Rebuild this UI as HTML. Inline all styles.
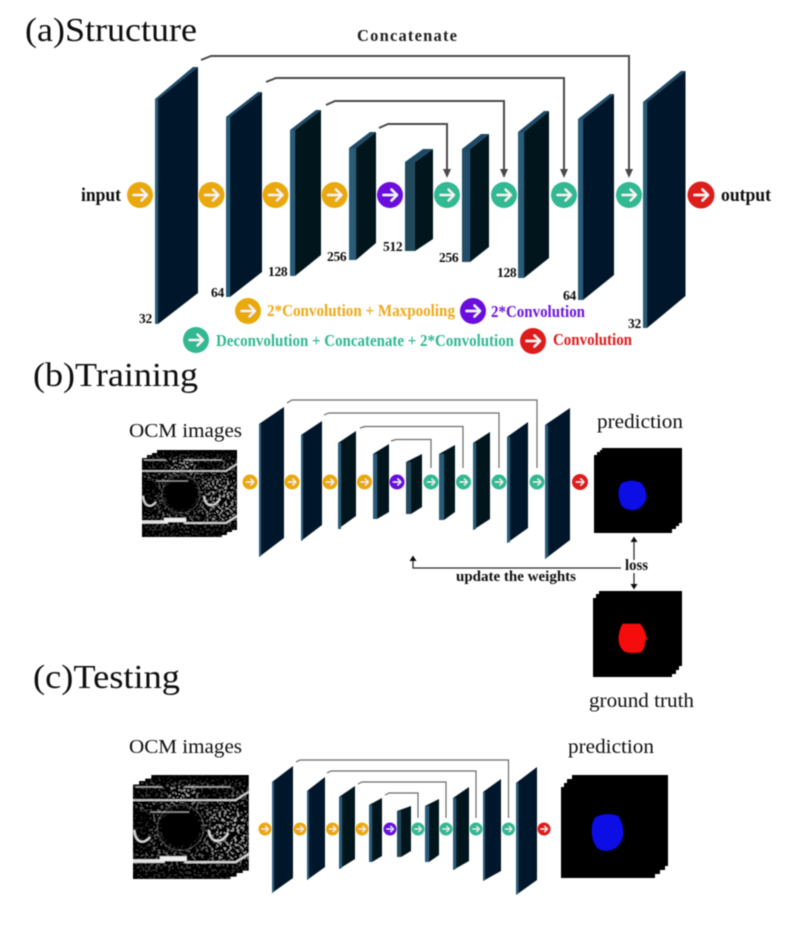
<!DOCTYPE html>
<html>
<head>
<meta charset="utf-8">
<style>
html,body{margin:0;padding:0;background:#fff;width:803px;height:929px;overflow:hidden}
svg{display:block}
text{font-family:"Liberation Serif",serif}
.b{font-weight:bold}
.t{font-size:34px;fill:#111}
.l{font-size:20px;fill:#111}
.n{font-size:13.5px;font-weight:bold;fill:#111;letter-spacing:-.3px}
.face{fill:#03192a}.face2{fill:#02121d}.strip{fill:#2c5b78}.top{fill:#1d4a66}
.c1{fill:none;stroke:#4a4a4a;stroke-width:2}
.c2{fill:none;stroke:#6b6b6b;stroke-width:1.2}
.ar{fill:none;stroke:#f6f6f6;stroke-width:2.2;stroke-linecap:round;stroke-linejoin:round}
</style>
</head>
<body>
<svg width="803" height="929" viewBox="0 0 803 929" xmlns="http://www.w3.org/2000/svg">
<defs>
<g id="arr"><path class="ar" d="M-6.5,0H6.5M1.5,-5.5L7,0L1.5,5.5"/></g>
<filter id="speck" x="0" y="0" width="100%" height="100%" color-interpolation-filters="sRGB">
<feTurbulence type="fractalNoise" baseFrequency="0.48" numOctaves="2" seed="7"/>
<feColorMatrix type="matrix" values="0 0 0 0 1  0 0 0 0 1  0 0 0 0 1  14 0 0 0 -8"/>
</filter>
<filter id="soft" x="-20%" y="-20%" width="140%" height="140%"><feGaussianBlur stdDeviation="2.5"/></filter>
<filter id="aa" x="0" y="0" width="100%" height="100%"><feGaussianBlur stdDeviation="0.4"/></filter>
<clipPath id="sil"><path d="M0,8H5V5H10V3H15V0H95V80H90V82H85V85H80V87H0Z"/></clipPath>
<mask id="dens" maskUnits="userSpaceOnUse" x="0" y="0" width="95" height="87">
<g filter="url(#soft)">
<rect width="95" height="87" fill="#666"/>
<rect x="0" y="0" width="95" height="8" fill="#222"/>
<rect x="0" y="11" width="40" height="8" fill="#222"/>
<rect x="50" y="11" width="30" height="8" fill="#111"/>
<rect x="30" y="10" width="22" height="12" fill="#aaa"/>
<rect x="-5" y="28" width="20" height="38" fill="#222"/>
<circle cx="39" cy="44" r="19" fill="#000"/>
<rect x="0" y="75" width="95" height="14" fill="#333"/>
<rect x="65" y="30" width="30" height="40" fill="#aaa"/>
</g>
</mask>
<g id="ocm">
<g clip-path="url(#sil)">
<rect width="95" height="87" fill="#000"/>
<rect width="95" height="87" filter="url(#speck)" mask="url(#dens)"/>
<g fill="none" stroke="#eee">
<path d="M2,10H24M42,10H80" stroke-width="1.2" opacity=".7"/>
<path d="M0,21H84L95,14" stroke-width="1.5" opacity=".85"/>
<circle cx="39" cy="44" r="19" stroke-width=".7" opacity=".3"/>
<path d="M14,31H46" stroke-width="1.2" opacity=".6"/>
<path d="M1,46C2,56 8,59 14,52" stroke-width="1.7" opacity=".9"/>
<path d="M62,46C63,56 71,59 78,49" stroke-width="1.7" opacity=".9"/>
<path d="M0,72H26" stroke-width="3" opacity=".95"/>
<path d="M22,70H44" stroke-width="4"/>
<path d="M42,73H84L95,66" stroke-width="1.8" opacity=".9"/>
</g>
</g>
</g>
</defs>
<rect width="803" height="929" fill="#fff"/>
<g filter="url(#aa)">

<!-- Panel A -->
<text class="t" x="25" y="41" textLength="172" lengthAdjust="spacingAndGlyphs">(a)Structure</text>
<text class="b" x="357" y="41" font-size="16.5" fill="#222" textLength="100">Concatenate</text>

<path class="c1" d="M201,60L211,56H629V170"/>
<path class="c1" d="M266,82L276,78H564V170"/>
<path class="c1" d="M326,105L335,101H504V170"/>
<path class="c1" d="M379,128L388,124H447V170"/>
<g fill="#4a4a4a">
<path d="M625,169H633L629,178Z"/><path d="M560,169H568L564,178Z"/><path d="M500,169H508L504,178Z"/><path d="M443,169H451L447,178Z"/>
</g>

<g>
<polygon class="top" points="155,99 193,67 198,67 158,99"/><polygon class="strip" points="155,99 158,99 158,324 155,324"/><polygon class="face" points="158,99 198,67 198,293 158,324"/>
<polygon class="top" points="226,117 258,92 262,92 230,117"/><polygon class="strip" points="226,117 230,117 230,297 226,297"/><polygon class="face" points="230,117 262,92 262,272 230,297"/>
<polygon class="top" points="290,130 316,110 321,110 295,130"/><polygon class="strip" points="290,130 295,130 295,276 290,276"/><polygon class="face2" points="295,130 321,110 321,255 295,276"/>
<polygon class="top" points="349,148 370,132 376,132 356,148"/><polygon class="strip" points="349,148 356,148 356,260 349,260"/><polygon class="face2" points="356,148 376,132 376,243 356,260"/>
<polygon class="top" points="405,162 423,149 433,149 415,162"/><polygon class="strip" points="405,162 415,162 415,251 405,251" style="fill:#24495c"/><polygon class="face2" points="415,162 433,149 433,239 415,251"/>
<polygon class="top" points="462,149 481,134 489,134 470,149"/><polygon class="strip" points="462,149 470,149 470,262 462,262" style="fill:#234d68"/><polygon class="face2" points="470,149 489,134 489,247 470,262"/>
<polygon class="top" points="518,132 544,111 549,111 524,132"/><polygon class="strip" points="518,132 524,132 524,278 518,278"/><polygon class="face2" points="524,132 549,111 549,258 524,278"/>
<polygon class="top" points="578,119 610,94 614,94 583,119"/><polygon class="strip" points="578,119 583,119 583,300 578,300"/><polygon class="face" points="583,119 614,94 614,275 583,300"/>
<polygon class="top" points="643,102 681,71 685.5,71 647,102"/><polygon class="strip" points="643,102 647,102 647,328 643,328"/><polygon class="face" points="647,102 685.5,71 685.5,296 647,328"/>
</g>

<g>
<circle cx="140" cy="195" r="13" fill="#e9a90c"/><circle cx="211.5" cy="195" r="13" fill="#e9a90c"/><circle cx="275.5" cy="195" r="13" fill="#e9a90c"/><circle cx="334.5" cy="195" r="13" fill="#e9a90c"/>
<circle cx="390" cy="195" r="13" fill="#6a0ddd"/>
<circle cx="447" cy="195" r="13" fill="#33b892"/><circle cx="504" cy="195" r="13" fill="#33b892"/><circle cx="564" cy="195" r="13" fill="#33b892"/><circle cx="629" cy="195" r="13" fill="#33b892"/>
<circle cx="701" cy="195" r="13.5" fill="#dd1c1c"/>
<use href="#arr" x="140" y="195"/><use href="#arr" x="211.5" y="195"/><use href="#arr" x="275.5" y="195"/><use href="#arr" x="334.5" y="195"/><use href="#arr" x="390" y="195"/><use href="#arr" x="447" y="195"/><use href="#arr" x="504" y="195"/><use href="#arr" x="564" y="195"/><use href="#arr" x="629" y="195"/><use href="#arr" x="701" y="195"/>
</g>

<text class="b" x="81" y="201" font-size="18.5" fill="#111" textLength="40" lengthAdjust="spacingAndGlyphs">input</text>
<text class="b" x="721" y="201" font-size="18.5" fill="#111" textLength="50" lengthAdjust="spacingAndGlyphs">output</text>

<text class="n" x="139" y="323">32</text><text class="n" x="211" y="297">64</text><text class="n" x="268" y="276">128</text><text class="n" x="327" y="261">256</text><text class="n" x="383" y="251">512</text><text class="n" x="439" y="262">256</text><text class="n" x="497" y="277">128</text><text class="n" x="563" y="300">64</text><text class="n" x="628" y="328">32</text>

<circle cx="248" cy="311" r="13" fill="#e9a90c"/><use href="#arr" x="248" y="311"/>
<text class="b" x="267" y="316" font-size="17" fill="#eda91a" textLength="188" lengthAdjust="spacingAndGlyphs">2*Convolution + Maxpooling</text>
<circle cx="473" cy="311" r="13" fill="#6a0ddd"/><use href="#arr" x="473" y="311"/>
<text class="b" x="491" y="317" font-size="17" fill="#6a14dc" textLength="94" lengthAdjust="spacingAndGlyphs">2*Convolution</text>
<circle cx="196" cy="340" r="13" fill="#33b892"/><use href="#arr" x="196" y="340"/>
<text class="b" x="216" y="346" font-size="17" fill="#33b892" textLength="298" lengthAdjust="spacingAndGlyphs">Deconvolution + Concatenate + 2*Convolution</text>
<circle cx="533" cy="341" r="13" fill="#dd1c1c"/><use href="#arr" x="533" y="341"/>
<text class="b" x="553" y="345" font-size="17" fill="#dd1c1c" textLength="79" lengthAdjust="spacingAndGlyphs">Convolution</text>

<!-- Panel B -->
<text class="t" x="33" y="386" textLength="165" lengthAdjust="spacingAndGlyphs">(b)Training</text>
<text class="l" x="129" y="437" font-size="19" textLength="113" lengthAdjust="spacingAndGlyphs">OCM images</text>
<text class="l" x="597" y="428" textLength="86" lengthAdjust="spacingAndGlyphs">prediction</text>
<text class="l" x="589" y="707" textLength="105" lengthAdjust="spacingAndGlyphs">ground truth</text>

<use href="#ocm" transform="translate(142,450)"/>

<path class="c2" d="M287,403L292,400H537V468"/>
<path class="c2" d="M324,415L329,413H499V468"/>
<path class="c2" d="M360,428L365,426.5H463V468"/>
<path class="c2" d="M391,441L396,439.5H431V468"/>

<g>
<polygon class="face" points="259,424 284,407 284,538 259,557"/><polygon class="strip" points="259,424 261,424 261,556 259,557"/>
<polygon class="face" points="301,435 322,421 322,525 301,541"/><polygon class="strip" points="301,435 303,435 303,540 301,541"/>
<polygon class="face2" points="338,443 356,431 356,516 338,529"/><polygon class="strip" points="338,443 341,443 341,529 338,529"/>
<polygon class="face2" points="373,454 389,444 389,512 377,519 373,519"/><polygon class="strip" points="373,454 377,454 377,519 373,519"/>
<polygon class="face2" points="406,462 422,454 422,507 411,514 406,514"/><polygon class="strip" points="406,462 411,462 411,514 406,514" style="fill:#24495c"/>
<polygon class="face2" points="439,454 455,445 455,512 444,520 439,520"/><polygon class="strip" points="439,454 444,454 444,520 439,520"/>
<polygon class="face2" points="473,443 490,432 490,519 473,530"/><polygon class="strip" points="473,443 476,443 476,529 473,530"/>
<polygon class="face" points="507,437 528,422 528,528 507,543"/><polygon class="strip" points="507,437 510,437 510,542 507,543"/>
<polygon class="face" points="545,425 570,408 570,540 545,559"/><polygon class="strip" points="545,425 548,425 548,557 545,559"/>
</g>

<g>
<circle cx="250" cy="482" r="7.5" fill="#e9a90c"/><circle cx="292" cy="482" r="7.5" fill="#e9a90c"/><circle cx="330" cy="482" r="7.5" fill="#e9a90c"/><circle cx="364.5" cy="482" r="7.5" fill="#e9a90c"/>
<circle cx="397" cy="482" r="7.5" fill="#6a0ddd"/>
<circle cx="431" cy="482" r="7.5" fill="#33b892"/><circle cx="463.5" cy="482" r="7.5" fill="#33b892"/><circle cx="499" cy="482" r="7.5" fill="#33b892"/><circle cx="537" cy="482" r="7.5" fill="#33b892"/>
<circle cx="580" cy="482" r="8" fill="#dd1c1c"/>
<use href="#arr" transform="translate(250,482) scale(.55)"/><use href="#arr" transform="translate(292,482) scale(.55)"/><use href="#arr" transform="translate(330,482) scale(.55)"/><use href="#arr" transform="translate(364.5,482) scale(.55)"/><use href="#arr" transform="translate(397,482) scale(.55)"/><use href="#arr" transform="translate(431,482) scale(.55)"/><use href="#arr" transform="translate(463.5,482) scale(.55)"/><use href="#arr" transform="translate(499,482) scale(.55)"/><use href="#arr" transform="translate(537,482) scale(.55)"/><use href="#arr" transform="translate(580,482) scale(.55)"/>
</g>

<path d="M594,455H597V452H600V450H602V448H682V523H679V526H676V529H672V533H594Z" fill="#000"/>
<path d="M622,483Q632,479 641,483Q647,490 646,499Q643,508 634,510Q624,510 621,504Q618,496 619,490Q620,485 622,483Z" fill="#0a10e6"/>
<path d="M593,598H596V594H599V591H682V666H679V670H676V674H672V677H593Z" fill="#000"/>
<path d="M623,624H640Q645,630 646,637L647,639L645,641Q645,648 641,652Q630,654 624,651Q618,645 619,636Q620,628 623,624Z" fill="#f50a0a"/>

<g fill="none" stroke="#333" stroke-width="1.3">
<path d="M634,541V560"/><path d="M634,573V586"/><path d="M621,568H413V560"/>
</g>
<g fill="#111">
<path d="M630.5,542H637.5L634,536.5Z"/><path d="M630.5,584H637.5L634,589.5Z"/><path d="M409.5,561H416.5L413,555.5Z"/>
</g>
<text class="b" x="625" y="570" font-size="15.5" fill="#111" textLength="23" lengthAdjust="spacingAndGlyphs">loss</text>
<text class="b" x="456" y="581" font-size="15" fill="#111" textLength="120" lengthAdjust="spacingAndGlyphs">update the weights</text>

<!-- Panel C -->
<text class="t" x="33" y="688" textLength="147" lengthAdjust="spacingAndGlyphs">(c)Testing</text>
<text class="l" x="129" y="753" font-size="19" textLength="113" lengthAdjust="spacingAndGlyphs">OCM images</text>
<text class="l" x="568" y="753" textLength="86" lengthAdjust="spacingAndGlyphs">prediction</text>

<use href="#ocm" transform="translate(133,775) scale(1.22,1.195)"/>

<path class="c2" d="M296,762L300,760H508.5V818"/>
<path class="c2" d="M327,773L331,771H476V818"/>
<path class="c2" d="M358,784L362,782H446V818"/>
<path class="c2" d="M385,795L389,793H418V818"/>

<g>
<polygon class="face" points="272,782 293,766 293,878 272,893"/><polygon class="strip" points="272,782 274,782 274,892 272,893"/>
<polygon class="face" points="307,791 325,777 325,867 307,880"/><polygon class="strip" points="307,791 309,791 309,879 307,880"/>
<polygon class="face2" points="339,797 355,786 355,859 339,869"/><polygon class="strip" points="339,797 342,797 342,868 339,869"/>
<polygon class="face2" points="369,805 382,798 382,856 372,862 369,862"/><polygon class="strip" points="369,805 372,805 372,862 369,862"/>
<polygon class="face2" points="397,811 411,806 411,851 401,857 397,857"/><polygon class="strip" points="397,811 401,811 401,857 397,857" style="fill:#24495c"/>
<polygon class="face2" points="425,806 439,799 439,855 429,862 425,862"/><polygon class="strip" points="425,806 429,806 429,862 425,862"/>
<polygon class="face2" points="453,798 469,787 469,861 453,870"/><polygon class="strip" points="453,798 456,798 456,869 453,870"/>
<polygon class="face" points="483,792 501,779 501,871 483,881"/><polygon class="strip" points="483,792 485,792 485,880 483,881"/>
<polygon class="face" points="516,783 537,767 537,880 516,895"/><polygon class="strip" points="516,783 518.5,783 518.5,893 516,895"/>
</g>

<g>
<circle cx="265" cy="829" r="6.5" fill="#e9a90c"/><circle cx="300" cy="829" r="6.5" fill="#e9a90c"/><circle cx="332.5" cy="829" r="6.5" fill="#e9a90c"/><circle cx="362" cy="829" r="6.5" fill="#e9a90c"/>
<circle cx="390" cy="829" r="6.5" fill="#6a0ddd"/>
<circle cx="418" cy="829" r="6.5" fill="#33b892"/><circle cx="446" cy="829" r="6.5" fill="#33b892"/><circle cx="476" cy="829" r="6.5" fill="#33b892"/><circle cx="508.5" cy="829" r="6.5" fill="#33b892"/>
<circle cx="544" cy="829" r="6.5" fill="#dd1c1c"/>
<use href="#arr" transform="translate(265,829) scale(.48)"/><use href="#arr" transform="translate(300,829) scale(.48)"/><use href="#arr" transform="translate(332.5,829) scale(.48)"/><use href="#arr" transform="translate(362,829) scale(.48)"/><use href="#arr" transform="translate(390,829) scale(.48)"/><use href="#arr" transform="translate(418,829) scale(.48)"/><use href="#arr" transform="translate(446,829) scale(.48)"/><use href="#arr" transform="translate(476,829) scale(.48)"/><use href="#arr" transform="translate(508.5,829) scale(.48)"/><use href="#arr" transform="translate(544,829) scale(.48)"/>
</g>

<path d="M561,787H564V783H567V779H572V775H668V866H665V870H660V874H655V878H561Z" fill="#000"/>
<path d="M596,817Q607,812 618,816Q624,825 623,836Q620,847 611,850Q600,852 596,846Q591,838 592,828Q593,820 596,817Z" fill="#0a10e6"/>
</g>
</svg>
</body>
</html>
